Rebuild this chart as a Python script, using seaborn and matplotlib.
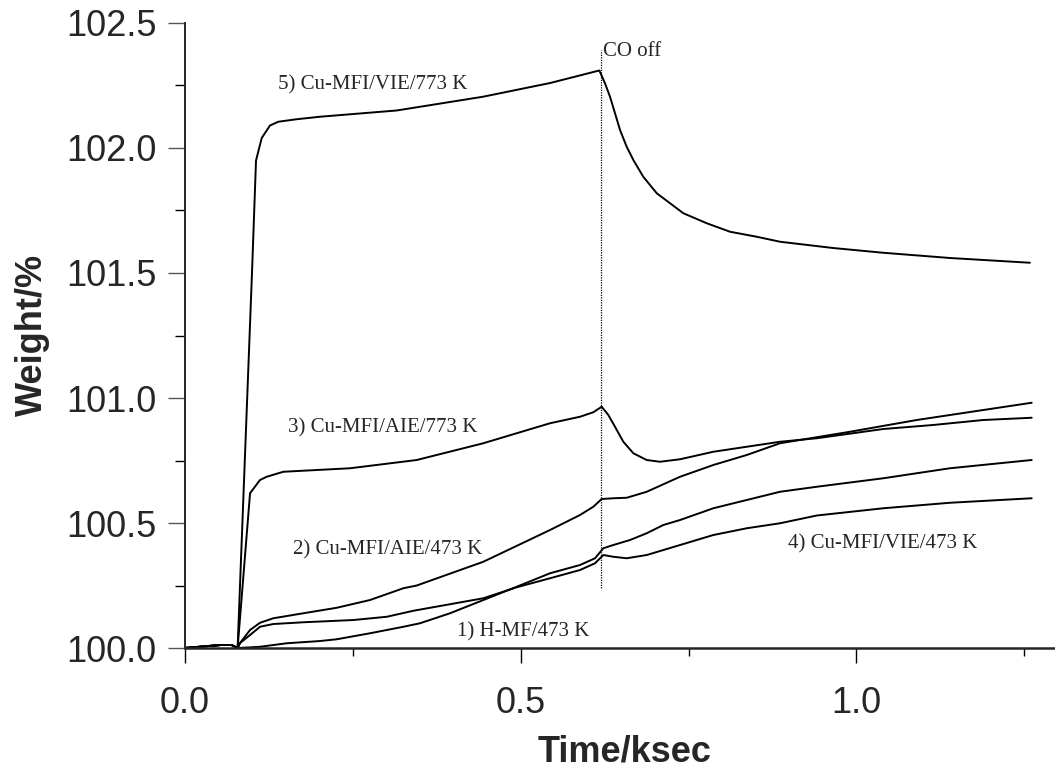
import matplotlib
matplotlib.use("Agg")
import matplotlib.pyplot as plt
import numpy as np
import pandas as pd
import seaborn as sns
from matplotlib.ticker import MultipleLocator, FormatStrFormatter

sns.set_style("ticks")
plt.rcParams["font.family"] = ["Liberation Sans", "DejaVu Sans"]

# time (ksec) / weight (%)
t5 = [0, 0.0536, 0.07, 0.079, 0.1004, 0.1064, 0.1149, 0.1272, 0.1396, 0.167, 0.2016, 0.3158,
      0.4442, 0.5443, 0.6173, 0.6257, 0.6332, 0.6406, 0.6481, 0.658, 0.6679, 0.6827, 0.7027,
      0.7225, 0.7423, 0.7771, 0.8118, 0.8515, 0.8862, 0.965, 1.0394, 1.139, 1.258]
w5 = [100.0, 100.012, 100.012, 100.0, 101.5, 101.95, 102.04, 102.09, 102.105, 102.115, 102.125, 102.15,
      102.205, 102.26, 102.31, 102.259, 102.205, 102.139, 102.072, 102.005, 101.952, 101.885, 101.819,
      101.779, 101.739, 101.699, 101.665, 101.645, 101.625, 101.60, 101.581, 101.56, 101.541]

t3 = [0, 0.0536, 0.07, 0.079, 0.0975, 0.1123, 0.1223, 0.147, 0.2463, 0.3455, 0.4446, 0.5439,
      0.5885, 0.6083, 0.6208, 0.6307, 0.6406, 0.653, 0.6679, 0.6878, 0.7076, 0.7374, 0.7869,
      0.8366, 0.8862, 0.9408, 1.0399, 1.1138, 1.1887, 1.2607]
w3 = [100.0, 100.012, 100.012, 100.0, 100.619, 100.672, 100.685, 100.705, 100.719, 100.752, 100.819, 100.899,
      100.925, 100.943, 100.965, 100.932, 100.885, 100.825, 100.779, 100.752, 100.745, 100.755, 100.785,
      100.805, 100.825, 100.839, 100.876, 100.892, 100.912, 100.921]

t2 = [0, 0.0536, 0.07, 0.079, 0.0826, 0.0975, 0.1123, 0.1321, 0.1768, 0.2265, 0.276, 0.3256,
      0.3455, 0.4446, 0.5439, 0.5885, 0.6083, 0.6208, 0.6381, 0.658, 0.6878, 0.7374, 0.7869,
      0.8366, 0.8862, 0.9903, 1.0896, 1.1887, 1.2607]
w2 = [100.0, 100.012, 100.012, 100.0, 100.02, 100.072, 100.101, 100.119, 100.139, 100.161, 100.192, 100.239,
      100.25, 100.345, 100.472, 100.532, 100.565, 100.596, 100.599, 100.601, 100.625, 100.685, 100.732,
      100.772, 100.819, 100.865, 100.912, 100.952, 100.981]

t4 = [0, 0.0536, 0.07, 0.079, 0.0826, 0.0975, 0.1123, 0.1321, 0.1768, 0.2512, 0.3009, 0.3405,
      0.4446, 0.4943, 0.5439, 0.5885, 0.6109, 0.6232, 0.6381, 0.658, 0.6878, 0.7374, 0.7869,
      0.8366, 0.8862, 0.9408, 1.0399, 1.1391, 1.2607]
w4 = [100.0, 100.012, 100.012, 100.0, 100.02, 100.052, 100.085, 100.096, 100.103, 100.112, 100.125, 100.149,
      100.199, 100.243, 100.279, 100.312, 100.339, 100.372, 100.365, 100.359, 100.372, 100.412, 100.452,
      100.479, 100.499, 100.53, 100.559, 100.581, 100.599]

t1 = [0, 0.0536, 0.07, 0.079, 0.1123, 0.152, 0.2016, 0.2265, 0.276, 0.3256, 0.3504, 0.3951,
      0.4943, 0.5439, 0.5885, 0.6109, 0.6232, 0.6381, 0.6629, 0.6878, 0.7125, 0.7374, 0.7869,
      0.8366, 0.8862, 0.9408, 1.0399, 1.1391, 1.2607]
w1 = [100.0, 100.012, 100.012, 100.0, 100.005, 100.019, 100.028, 100.035, 100.059, 100.085, 100.099, 100.139,
      100.245, 100.299, 100.332, 100.359, 100.399, 100.412, 100.432, 100.459, 100.492, 100.512, 100.559,
      100.592, 100.625, 100.645, 100.679, 100.719, 100.752]

co_off = 0.62

curves = {"5": (t5, w5), "3": (t3, w3), "2": (t2, w2), "4": (t4, w4), "1": (t1, w1)}
df = pd.concat([pd.DataFrame({"time": t, "weight": w, "run": k}) for k, (t, w) in curves.items()])

fig = plt.figure(figsize=(10.55, 7.71), dpi=100)
ax = fig.add_axes([0.1749, 0.1595, 0.8251, 0.8107])

for k in curves:
    sns.lineplot(data=df[df["run"] == k], x="time", y="weight", color="black",
                 lw=1.4, sort=False, ax=ax, legend=False)

ax.plot([co_off, co_off], [100.24, 102.39], ls=(0, (1, 1)), color="black", lw=0.9)

serif = ["Liberation Serif", "DejaVu Serif"]
kw = dict(family=serif, fontsize=15, ha="left", va="center")
ax.text(0.139, 102.252, "5) Cu-MFI/VIE/773 K", **kw)
ax.text(0.154, 100.88, "3) Cu-MFI/AIE/773 K", **kw)
ax.text(0.1615, 100.392, "2) Cu-MFI/AIE/473 K", **kw)
ax.text(0.4055, 100.064, "1) H-MF/473 K", **kw)
ax.text(0.898, 100.416, "4) Cu-MFI/VIE/473 K", **kw)
ax.text(0.6235, 102.384, "CO off", **kw)

ax.set_xlim(0, 1.2954)
ax.set_ylim(100.0, 102.5)
ax.xaxis.set_major_locator(MultipleLocator(0.5))
ax.xaxis.set_minor_locator(MultipleLocator(0.25))
ax.yaxis.set_major_locator(MultipleLocator(0.5))
ax.yaxis.set_minor_locator(MultipleLocator(0.25))
ax.xaxis.set_major_formatter(FormatStrFormatter("%.1f"))
ax.yaxis.set_major_formatter(FormatStrFormatter("%.1f"))

ax.tick_params(axis="y", which="major", length=12, width=1, color="#555555",
               labelsize=26, pad=8)
ax.tick_params(axis="y", which="minor", length=7, width=1, color="black")
ax.tick_params(axis="x", which="major", length=11, width=1, color="black",
               labelsize=26, pad=16)
ax.tick_params(axis="x", which="minor", length=6, width=1, color="black")

sns.despine(ax=ax)
ax.spines["left"].set_linewidth(1.4)
ax.spines["bottom"].set_linewidth(1.8)

ax.set_xlabel("Time/ksec", fontsize=26, fontweight="bold")
ax.set_ylabel("Weight/%", fontsize=26, fontweight="bold")
ax.xaxis.set_label_coords(0.505, -0.1665)
ax.xaxis.label.set_va("center")
ax.yaxis.set_label_coords(-0.175, 0.5008)
ax.yaxis.label.set_va("center")

fig.savefig("out.png", dpi=100)
